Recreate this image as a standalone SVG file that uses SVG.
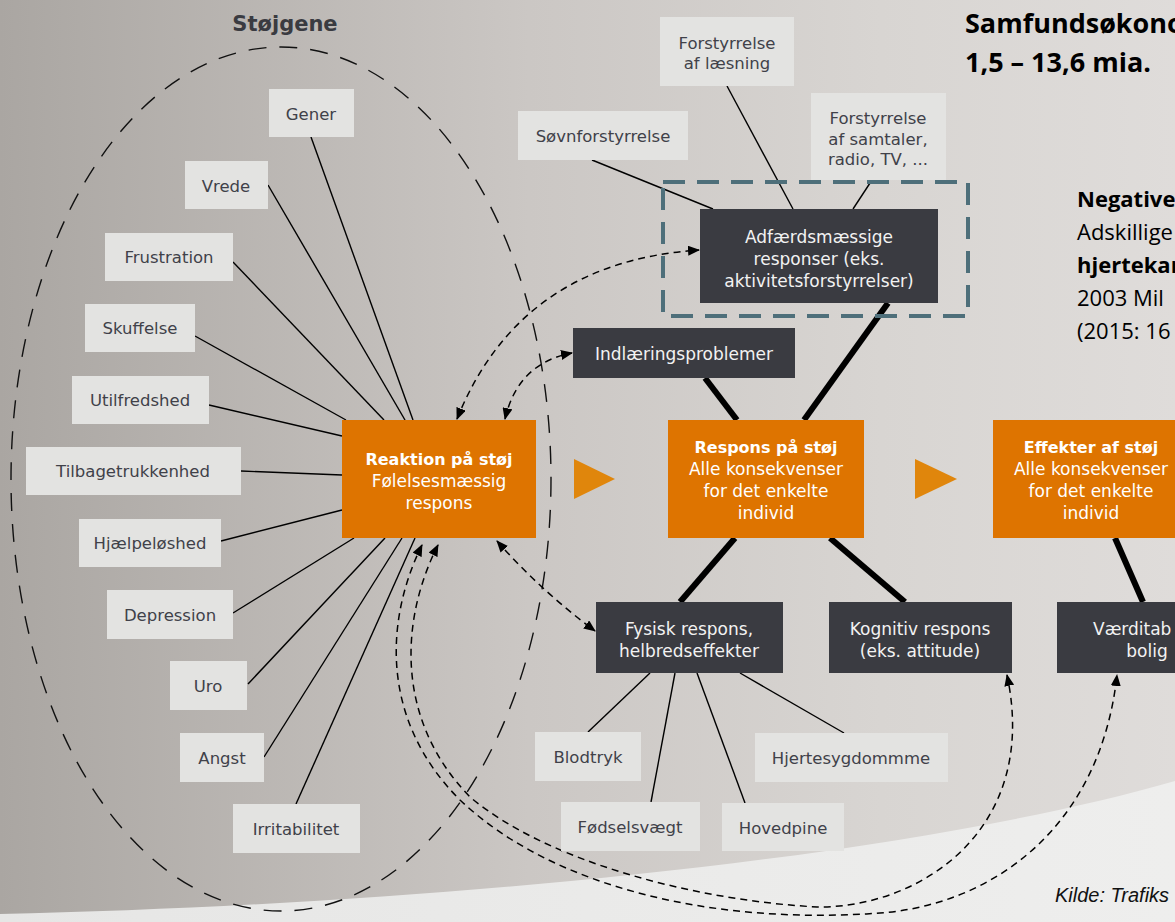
<svg xmlns="http://www.w3.org/2000/svg" width="1175" height="922" viewBox="0 0 1175 922">
<defs>
<linearGradient id="bg" x1="0" y1="0" x2="1" y2="0">
<stop offset="0" stop-color="#aaa6a2"/>
<stop offset="0.45" stop-color="#cbc7c4"/>
<stop offset="0.75" stop-color="#d8d5d2"/>
<stop offset="1" stop-color="#dfdcda"/>
</linearGradient>
<linearGradient id="floor" x1="0" y1="0" x2="1" y2="0">
<stop offset="0" stop-color="#e6e6e5"/>
<stop offset="1" stop-color="#eeeeed"/>
</linearGradient>
<marker id="ah" viewBox="0 0 12 10" refX="11" refY="5" markerWidth="12" markerHeight="10" markerUnits="userSpaceOnUse" orient="auto-start-reverse">
<path d="M0,0 L12,5 L0,10 Z" fill="#000"/>
</marker>
<style>
.lb{fill:#e3e3e1}
.db{fill:#3a3b41}
.ob{fill:#de7400}
.lt{font-family:"DejaVu Sans",sans-serif;font-size:16.5px;fill:#404149;text-anchor:middle}
.dt{font-family:"DejaVu Sans",sans-serif;font-size:17px;fill:#f2f2f2;text-anchor:middle}
.dts{font-family:"DejaVu Sans",sans-serif;font-size:17px;fill:#f2f2f2;text-anchor:start}
.ot{font-family:"DejaVu Sans",sans-serif;font-size:17px;fill:#ffffff;text-anchor:middle}
.otb{font-family:"DejaVu Sans",sans-serif;font-size:16px;font-weight:bold;fill:#ffffff;text-anchor:middle}
.thin{stroke:#000;stroke-width:1.4;fill:none}
.thick{stroke:#000;stroke-width:6;fill:none}
.dash{stroke:#000;stroke-width:1.5;fill:none;stroke-dasharray:7 5;marker-end:url(#ah)}
.both{marker-start:url(#ah)}
.rt{font-family:"Open Sans",sans-serif;font-size:22px;fill:#000}
.tri{fill:#e0860c}
</style>
</defs>

<rect width="1175" height="922" fill="url(#bg)"/>
<path d="M0,914 C420,905 900,860 1175,781 L1175,922 L0,922 Z" fill="url(#floor)"/>

<!-- right-side texts -->
<g id="title-right">
<text x="965" y="33" font-family="'Open Sans',sans-serif" font-size="27" font-weight="bold" fill="#000">Samfundsøkono</text>
<text x="965" y="72" font-family="'Open Sans',sans-serif" font-size="27" font-weight="bold" fill="#000">1,5 – 13,6 mia.</text>
</g>
<g id="negative-text">
<text class="rt" x="1077" y="207" font-weight="bold">Negative</text>
<text class="rt" x="1077" y="240">Adskillige</text>
<text class="rt" x="1077" y="273" font-weight="bold">hjertekar</text>
<text class="rt" x="1077" y="306">2003 Mil</text>
<text class="rt" x="1077" y="339">(2015: 16</text>
</g>
<text x="1055" y="902" font-family="'Liberation Sans',Arial,sans-serif" font-size="20" font-style="italic" fill="#111">Kilde: Trafiks</text>

<!-- Støjgene ellipse -->
<g id="stoejgene">
<ellipse cx="281" cy="479" rx="270" ry="432" fill="none" stroke="#111" stroke-width="1.4" stroke-dasharray="18 13"/>
<text x="285" y="31" font-family="'DejaVu Sans',sans-serif" font-size="21" font-weight="bold" fill="#3a3b41" text-anchor="middle">Støjgene</text>
</g>

<!-- connectors -->
<g id="connectors">
<line class="thin" x1="311" y1="137" x2="413" y2="420"/>
<line class="thin" x1="268" y1="185" x2="405" y2="420"/>
<line class="thin" x1="233" y1="262" x2="384" y2="420"/>
<line class="thin" x1="195" y1="336" x2="346" y2="420"/>
<line class="thin" x1="209" y1="405" x2="342" y2="436"/>
<line class="thin" x1="241" y1="471" x2="342" y2="475"/>
<line class="thin" x1="221" y1="541" x2="342" y2="510"/>
<line class="thin" x1="233" y1="613" x2="354" y2="538"/>
<line class="thin" x1="248" y1="684" x2="385" y2="538"/>
<line class="thin" x1="264" y1="757" x2="402" y2="538"/>
<line class="thin" x1="296" y1="804" x2="415" y2="538"/>

<line class="thin" x1="592" y1="160" x2="713" y2="209"/>
<line class="thin" x1="727" y1="86" x2="793" y2="209"/>
<line class="thin" x1="872" y1="180" x2="853" y2="209"/>

<line class="thin" x1="650" y1="673" x2="588" y2="732"/>
<line class="thin" x1="675" y1="673" x2="651" y2="802"/>
<line class="thin" x1="697" y1="673" x2="745" y2="803"/>
<line class="thin" x1="740" y1="673" x2="844" y2="733"/>

<line class="thick" x1="888" y1="303" x2="804" y2="420"/>
<line class="thick" x1="705" y1="378" x2="737" y2="420"/>
<line class="thick" x1="735" y1="538" x2="680" y2="602"/>
<line class="thick" x1="830" y1="538" x2="905" y2="602"/>
<line class="thick" x1="1115" y1="538" x2="1143" y2="602"/>

<path class="dash both" d="M457,419 Q520,262 699,250"/>
<path class="dash both" d="M505,419 Q518,363 572,353"/>
<path class="dash both" d="M497,541 Q540,590 595,631"/>
<path class="dash both" d="M438,545 C400,620 395,720 470,797 C545,860 690,900 817,907 C920,908 1040,830 1007,675"/>
<path class="dash both" d="M422,545 C385,620 380,720 460,800 C555,890 720,925 880,913 C990,905 1100,830 1117,675"/>
</g>

<!-- teal dashed grouping -->
<rect x="663" y="182" width="305" height="134" fill="none" stroke="#4e6f7a" stroke-width="4" stroke-dasharray="22 12"/>

<!-- left emotion nodes -->
<g id="n-gener"><rect class="lb" x="269" y="89" width="85" height="48"/><text class="lt" x="311" y="120">Gener</text></g>
<g id="n-vrede"><rect class="lb" x="185" y="161" width="83" height="48"/><text class="lt" x="226" y="192">Vrede</text></g>
<g id="n-frustration"><rect class="lb" x="105" y="233" width="128" height="48"/><text class="lt" x="169" y="263">Frustration</text></g>
<g id="n-skuffelse"><rect class="lb" x="85" y="304" width="110" height="48"/><text class="lt" x="140" y="334">Skuffelse</text></g>
<g id="n-utilfredshed"><rect class="lb" x="72" y="376" width="137" height="48"/><text class="lt" x="140" y="406">Utilfredshed</text></g>
<g id="n-tilbagetrukkenhed"><rect class="lb" x="26" y="447" width="215" height="48"/><text class="lt" x="133" y="477">Tilbagetrukkenhed</text></g>
<g id="n-hjaelpeloeshed"><rect class="lb" x="79" y="519" width="142" height="48"/><text class="lt" x="150" y="549">Hjælpeløshed</text></g>
<g id="n-depression"><rect class="lb" x="107" y="590" width="126" height="49"/><text class="lt" x="170" y="621">Depression</text></g>
<g id="n-uro"><rect class="lb" x="170" y="661" width="77" height="49"/><text class="lt" x="208" y="692">Uro</text></g>
<g id="n-angst"><rect class="lb" x="180" y="733" width="84" height="49"/><text class="lt" x="222" y="764">Angst</text></g>
<g id="n-irritabilitet"><rect class="lb" x="233" y="804" width="127" height="49"/><text class="lt" x="296" y="835">Irritabilitet</text></g>

<!-- top disturbance nodes -->
<g id="n-laesning"><rect class="lb" x="660" y="17" width="134" height="69"/><text class="lt" x="727" y="49">Forstyrrelse</text><text class="lt" x="727" y="69">af læsning</text></g>
<g id="n-soevn"><rect class="lb" x="518" y="111" width="170" height="49"/><text class="lt" x="603" y="142">Søvnforstyrrelse</text></g>
<g id="n-samtaler"><rect class="lb" x="811" y="93" width="135" height="87"/><text class="lt" x="878" y="124">Forstyrrelse</text><text class="lt" x="878" y="145">af samtaler,</text><text class="lt" x="878" y="165">radio, TV, ...</text></g>

<!-- dark nodes -->
<g id="n-adfaerd"><rect class="db" x="700" y="209" width="238" height="94"/><text class="dt" x="819" y="243">Adfærdsmæssige</text><text class="dt" x="819" y="265">responser (eks.</text><text class="dt" x="819" y="287">aktivitetsforstyrrelser)</text></g>
<g id="n-indlaering"><rect class="db" x="573" y="328" width="222" height="50"/><text class="dt" x="684" y="360">Indlæringsproblemer</text></g>
<g id="n-fysisk"><rect class="db" x="596" y="602" width="187" height="71"/><text class="dt" x="689" y="635">Fysisk respons,</text><text class="dt" x="689" y="657">helbredseffekter</text></g>
<g id="n-kognitiv"><rect class="db" x="829" y="602" width="183" height="71"/><text class="dt" x="920" y="635">Kognitiv respons</text><text class="dt" x="920" y="657">(eks. attitude)</text></g>
<g id="n-vaerditab"><rect class="db" x="1057" y="602" width="130" height="71"/><text class="dts" x="1093" y="635">Værditab</text><text class="dt" x="1147" y="657">bolig</text></g>

<!-- bottom health nodes -->
<g id="n-blodtryk"><rect class="lb" x="535" y="732" width="106" height="49"/><text class="lt" x="588" y="763">Blodtryk</text></g>
<g id="n-foedselsvaegt"><rect class="lb" x="561" y="802" width="139" height="49"/><text class="lt" x="630" y="833">Fødselsvægt</text></g>
<g id="n-hovedpine"><rect class="lb" x="722" y="803" width="122" height="48"/><text class="lt" x="783" y="834">Hovedpine</text></g>
<g id="n-hjerte"><rect class="lb" x="755" y="733" width="193" height="49"/><text class="lt" x="851" y="764">Hjertesygdommme</text></g>

<!-- orange nodes -->
<g id="n-reaktion"><rect class="ob" x="342" y="420" width="194" height="118"/><text class="otb" x="439" y="465">Reaktion på støj</text><text class="ot" x="439" y="487">Følelsesmæssig</text><text class="ot" x="439" y="509">respons</text></g>
<g id="n-respons"><rect class="ob" x="668" y="420" width="196" height="118"/><text class="otb" x="766" y="453">Respons på støj</text><text class="ot" x="766" y="475">Alle konsekvenser</text><text class="ot" x="766" y="497">for det enkelte</text><text class="ot" x="766" y="519">individ</text></g>
<g id="n-effekter"><rect class="ob" x="993" y="420" width="200" height="118"/><text class="otb" x="1091" y="453">Effekter af støj</text><text class="ot" x="1091" y="475">Alle konsekvenser</text><text class="ot" x="1091" y="497">for det enkelte</text><text class="ot" x="1091" y="519">individ</text></g>

<polygon class="tri" points="574,459 615,479 574,499"/>
<polygon class="tri" points="915,459 957,479 915,499"/>
</svg>
